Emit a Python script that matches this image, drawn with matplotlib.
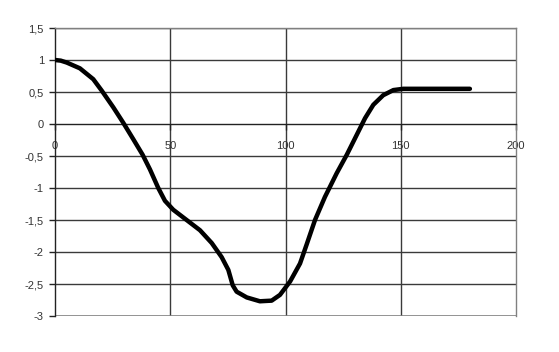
import numpy as np
import matplotlib.pyplot as plt
from matplotlib.ticker import FuncFormatter

plt.rcParams['font.family'] = ['Liberation Sans', 'DejaVu Sans']

# curve
x_vals = [0, 2.5, 5.1, 10.8, 16.6, 20.3, 25.3, 29.6, 34.0, 38.0, 41.2, 44.8, 47.7,
          51.3, 57.1, 62.9, 68.0, 72.3, 75.2, 77.1, 78.8, 83.2, 88.9, 94.0,
          97.6, 102.0, 106.3, 109.2, 112.8, 117.1, 122.2, 126.6, 130.9, 134.5,
          138.1, 142.4, 146.8, 151.1, 180]
y_vals = [1.0, 0.99, 0.96, 0.87, 0.70, 0.52, 0.26, 0.02, -0.24, -0.48, -0.71, -1.0, -1.2,
          -1.34, -1.5, -1.66, -1.86, -2.08, -2.28, -2.52, -2.62, -2.71, -2.77, -2.76,
          -2.67, -2.46, -2.18, -1.88, -1.5, -1.14, -0.77, -0.48, -0.17, 0.09,
          0.30, 0.45, 0.53, 0.55, 0.55]

x_ticks = [0, 50, 100, 150, 200]
y_ticks = [-3, -2.5, -2, -1.5, -1, -0.5, 0, 0.5, 1, 1.5]

fig = plt.figure(figsize=(5.59, 3.52), dpi=100)
ax = fig.add_axes([55 / 559, 36 / 352, 461 / 559, 288 / 352])

ax.set_xlim(0, 200)
ax.set_ylim(-3, 1.5)
ax.set_xticks(x_ticks)
ax.set_yticks(y_ticks)

for yv in y_ticks:
    if yv not in (-3, 0):
        ax.axhline(yv, color='#3a3a3a', lw=1, zorder=1)
for xv in x_ticks[1:-1]:
    ax.axvline(xv, color='#3a3a3a', lw=1, zorder=1)
ax.axhline(-3, color='#808080', lw=1.2, zorder=1)

ax.plot(x_vals, y_vals, color='black', lw=3.2, solid_capstyle='round',
        solid_joinstyle='round', zorder=3)

ax.spines['bottom'].set_position(('data', 0))
ax.spines['bottom'].set_color('#222222')
ax.spines['left'].set_color('#222222')
ax.spines['top'].set_color('#808080')
ax.spines['right'].set_color('#808080')
for s in ax.spines.values():
    s.set_linewidth(1)

fmt = FuncFormatter(lambda v, p: ('%g' % v).replace('.', ','))
ax.xaxis.set_major_formatter(fmt)
ax.yaxis.set_major_formatter(fmt)
ax.tick_params(axis='both', direction='out', length=4, width=1, color='#222222',
               labelsize=8, labelcolor='#333333')
ax.tick_params(axis='x', pad=8)
ax.tick_params(axis='y', pad=4)

fig.savefig('out.png', dpi=100)
